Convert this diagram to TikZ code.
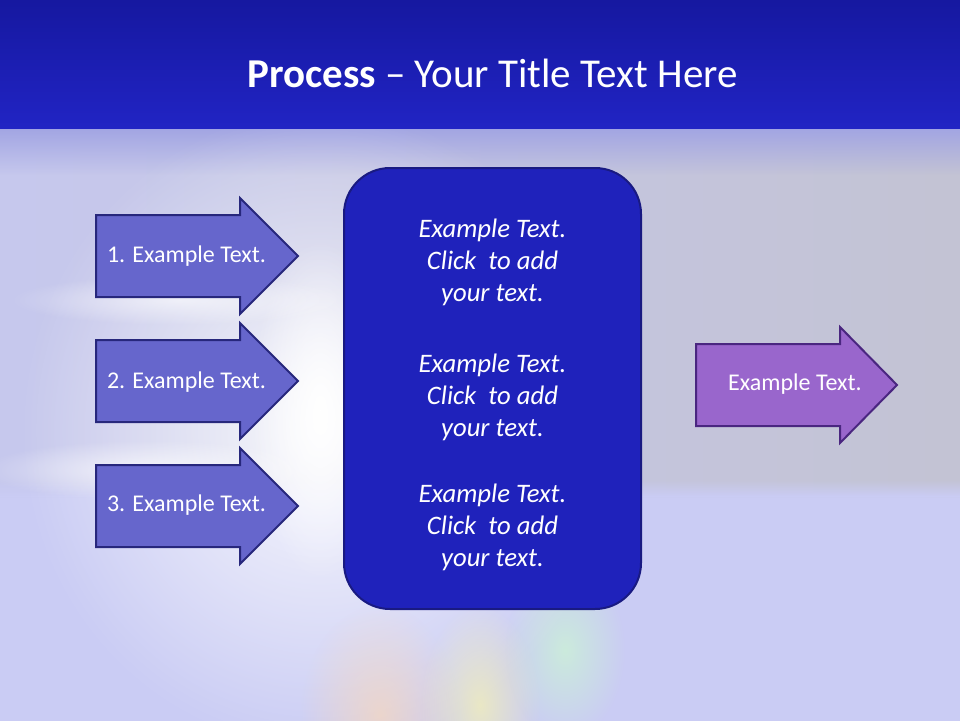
\documentclass[tikz,border=0pt]{standalone}
\usepackage{fontspec}
\setmainfont{Carlito}
\usetikzlibrary{fadings,calc}
\definecolor{hdtop}{HTML}{14169A}
\definecolor{hdbot}{HTML}{2124C4}
\definecolor{bgl}{HTML}{CACCF4}
\definecolor{bgleft}{HTML}{C6C8EE}
\definecolor{bgright}{HTML}{C3C3D3}
\definecolor{bandc}{HTML}{A2A5E3}
\definecolor{leftfill}{HTML}{6666CC}
\definecolor{leftline}{HTML}{27277C}
\definecolor{boxfill}{HTML}{1F22BB}
\definecolor{boxline}{HTML}{191A82}
\definecolor{rightfill}{HTML}{9966CC}
\definecolor{rightline}{HTML}{4A2680}
\tikzfading[name=glowfade, inner color=transparent!0, outer color=transparent!100]
\tikzfading[name=bandfade, top color=transparent!0, bottom color=transparent!100]
\tikzfading[name=edgefade, top color=transparent!100, bottom color=transparent!100, middle color=transparent!0]
\tikzset{
  leftarrow/.style={fill=leftfill, draw=leftline, line width=2pt, line join=miter},
  rightarrow/.style={fill=rightfill, draw=rightline, line width=2pt, line join=miter},
  procbox/.style={fill=boxfill, draw=boxline, line width=2pt, rounded corners=46pt,
    minimum width=297pt, minimum height=441pt, inner sep=0pt},
  arrtext/.style={font=\fontsize{24}{28}\selectfont, inner sep=0pt, text=white},
  boxtext/.style={font=\fontsize{26.7}{32}\selectfont\itshape, align=center, inner sep=0pt, text=white}
}
\newcommand{\arrowpath}[5]{% style, x0, xhead, xtip, ymid
  \draw[#1] ({#2},{#5-41}) -- ({#3},{#5-41}) -- ({#3},{#5-58}) -- ({#4},{#5})
    -- ({#3},{#5+58}) -- ({#3},{#5+41}) -- ({#2},{#5+41}) -- cycle;}
\begin{document}
\begin{tikzpicture}[x=1pt,y=-1pt]
\useasboundingbox (0,0) rectangle (960,720);
% background
\fill[bgl] (-20,-20) rectangle (980,740);
\shade[left color=bgleft, right color=bgright] (-20,128) rectangle (980,497);
\fill[bgl, path fading=edgefade] (-40,480) rectangle (1000,512);
\fill[bandc, path fading=bandfade] (-40,128) rectangle (1000,175);
\fill[white, opacity=0.9, path fading=glowfade] (320,430) ellipse (300 and 320);
\fill[white, path fading=glowfade] (320,410) ellipse (70 and 170);
\fill[white, opacity=0.7, path fading=glowfade] (150,470) ellipse (170 and 30);
\fill[white, opacity=0.6, path fading=glowfade] (180,300) ellipse (170 and 25);
\fill[orange!30, opacity=0.6, path fading=glowfade] (380,715) ellipse (80 and 110);
\fill[yellow!35, opacity=0.6, path fading=glowfade] (480,705) ellipse (60 and 100);
\fill[green!20, opacity=0.6, path fading=glowfade] (565,650) ellipse (60 and 90);
% header
\shade[top color=hdtop, bottom color=hdbot] (-20,-20) rectangle (980,128);
\node[anchor=base, text=white, font=\fontsize{41}{48}\selectfont, inner sep=0pt] (title)
  at (492.5,87) {\textbf{Process} -- Your Title Text Here};
% left arrows
\arrowpath{leftarrow}{96}{240}{298}{256}
\arrowpath{leftarrow}{96}{240}{298}{381}
\arrowpath{leftarrow}{96}{240}{298}{506}
\node[arrtext] (t1) at (186.5,256) {1. Example Text.};
\node[arrtext] (t2) at (186.5,382) {2. Example Text.};
\node[arrtext] (t3) at (186.5,505) {3. Example Text.};
% center box
\node[procbox] (box) at (492.5,388.5) {};
\node[boxtext] (ba) at (492.5,262) {Example Text.\\Click{} \ to add\\your text.};
\node[boxtext] (bb) at (492.5,397) {Example Text.\\Click{} \ to add\\your text.};
\node[boxtext] (bc) at (492.5,527) {Example Text.\\Click{} \ to add\\your text.};
% right arrow
\arrowpath{rightarrow}{696}{840}{897}{385}
\node[arrtext] (tr) at (795,384) {Example Text.};
\end{tikzpicture}
\end{document}
